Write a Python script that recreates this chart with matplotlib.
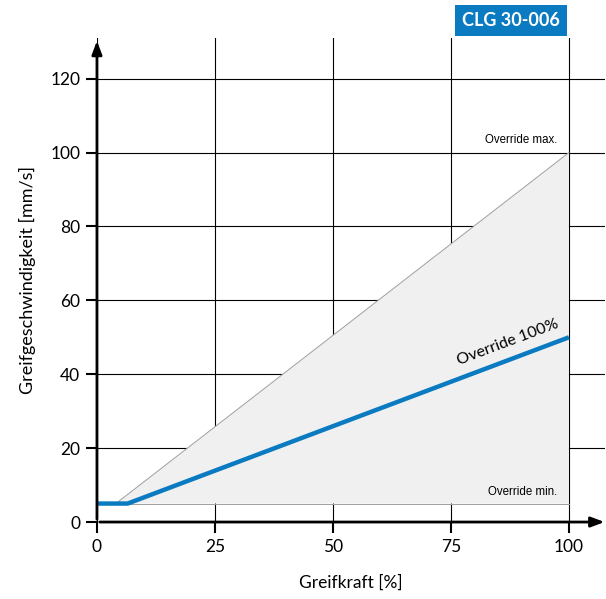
import matplotlib
matplotlib.use("Agg")
import matplotlib.pyplot as plt
from matplotlib.patches import Polygon

plt.rcParams['font.family'] = ['Lato', 'DejaVu Sans']

# data
override_100_x = [0, 6.5, 100]
override_100_y = [5, 5, 50]
override_max_x = [4, 100]
override_max_y = [5, 100]
override_min_y = 5
x_ticks = [0, 25, 50, 75, 100]
y_ticks = [0, 20, 40, 60, 80, 100, 120]
title = "CLG 30-006"

blue = "#0a7bc1"

fig = plt.figure(figsize=(6.06, 5.99), dpi=100)
ax = fig.add_axes([0.160, 0.1285, 0.838, 0.808])
ax.set_xlim(0, 107.6)
ax.set_ylim(0, 131)

# shaded range between min and max override
shade = Polygon([(override_max_x[0], override_max_y[0]), (override_max_x[1], override_max_y[1]),
                 (override_max_x[1], override_min_y)], closed=True,
                facecolor="#f0f0f0", edgecolor="none", zorder=1)
ax.add_patch(shade)
ax.plot(override_max_x, override_max_y, color="#a0a0a0", lw=0.7, zorder=2)
ax.plot([0, 100], [override_min_y, override_min_y], color="#a0a0a0", lw=0.7, zorder=2)

ax.set_xticks(x_ticks)
ax.set_yticks(y_ticks)
ax.grid(True, color="black", lw=0.8, zorder=0)
ax.set_axisbelow(True)
for s in ax.spines.values():
    s.set_visible(False)
ax.tick_params(axis="both", length=8, width=1.5, labelsize=12.5, pad=4)

ax.plot(override_100_x, override_100_y, color=blue, lw=3.2, solid_capstyle="butt", zorder=4)

# axis arrows
ax.annotate("", xy=(1.005, 0), xytext=(0, 0), xycoords="axes fraction",
            arrowprops=dict(arrowstyle="-|>,head_length=0.8,head_width=0.3", color="black", lw=2),
            annotation_clip=False, zorder=5)
ax.annotate("", xy=(0, 1.0), xytext=(0, 0), xycoords="axes fraction",
            arrowprops=dict(arrowstyle="-|>,head_length=0.8,head_width=0.3", color="black", lw=2),
            annotation_clip=False, zorder=5)

ax.text(87.0, 48.6, "Override 100%", rotation=20.6, fontsize=11.5, ha="center", va="center",
        rotation_mode="anchor", zorder=6)
ax.text(97.6, 101.8, "Override max.", fontsize=8.3, ha="right", va="bottom",
        family=["Liberation Sans", "DejaVu Sans"])
ax.text(97.6, 6.6, "Override min.", fontsize=8.3, ha="right", va="bottom",
        family=["Liberation Sans", "DejaVu Sans"])

ax.set_xlabel("Greifkraft [%]", fontsize=12.5, labelpad=14)
ax.set_ylabel("Greifgeschwindigkeit [mm/s]", fontsize=13, labelpad=10)

fig.text(0.843, 0.966, title, color="white", fontsize=13, fontweight="bold", ha="center", va="center",
         bbox=dict(boxstyle="square,pad=0.4", facecolor=blue, edgecolor="none"))

fig.savefig("out.png", dpi=100)
